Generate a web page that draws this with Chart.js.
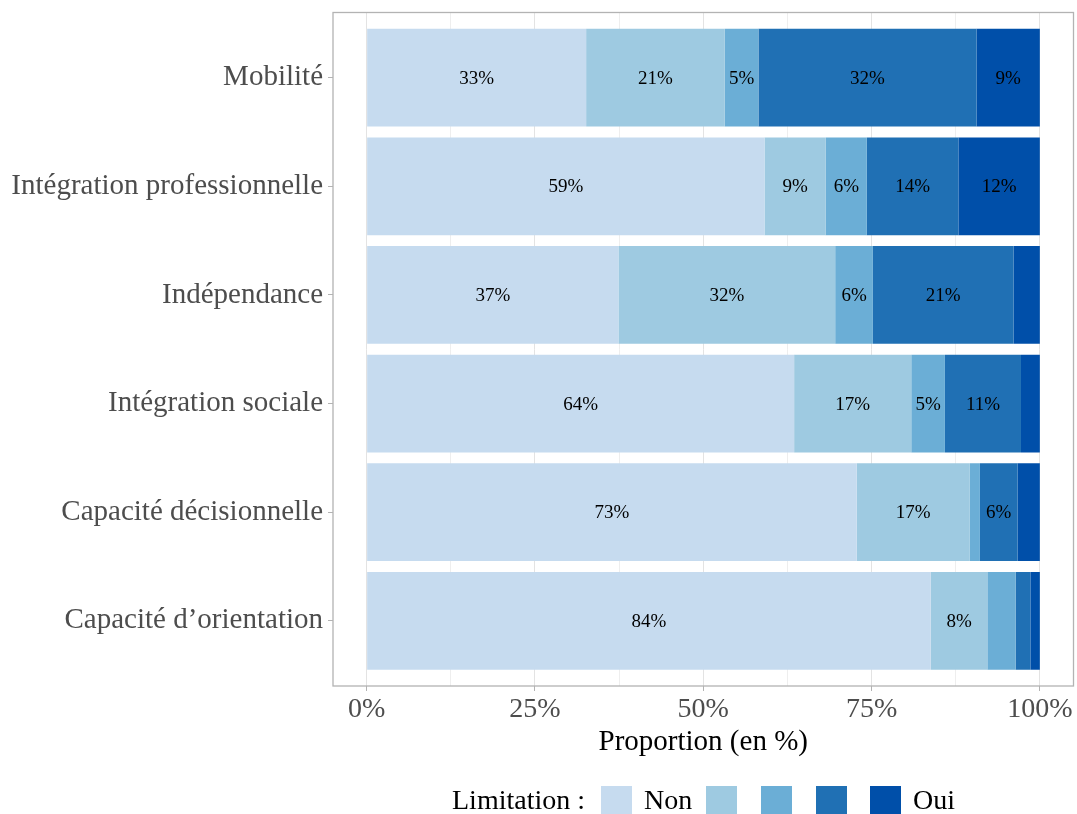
<!DOCTYPE html>
<html>
<head>
<meta charset="utf-8">
<script src="https://cdn.jsdelivr.net/npm/chart.js@4"></script>
<style>
  html, body { margin: 0; padding: 0; background: #fff; }
  #wrap { position: relative; width: 1077px; height: 814px; overflow: hidden; }
  #legend { position: absolute; left: 0; top: 0; width: 1077px; height: 814px; pointer-events: none;
            font-family: "Liberation Serif", "DejaVu Serif", serif; font-size: 28px; color: #000; }
  #legend .txt { position: absolute; top: 783px; line-height: 34px; white-space: nowrap; }
  #legend .key { position: absolute; top: 786px; width: 31px; height: 31px; }
</style>
</head>
<body>
<div id="wrap">
  <canvas id="chart" width="1077" height="814"></canvas>
  <div id="legend"></div>
</div>
<script>
// Catégories (de haut en bas)
const categories = ['Mobilité', 'Intégration professionnelle', 'Indépendance',
                    'Intégration sociale', 'Capacité décisionnelle', "Capacité d’orientation"];

// Niveaux de limitation (Non -> Oui)
const levels = ['Non', '', '', '', 'Oui'];
const colors = ['#c6dbef', '#9ecae1', '#6baed6', '#2070b4', '#004fa9'];

// Proportions (%) par niveau, une valeur par catégorie
const level1 = [32.6, 59.1, 37.4, 63.5, 72.8, 83.8];
const level2 = [20.6,  9.1, 32.2, 17.4, 16.8,  8.4];
const level3 = [ 5.0,  6.1,  5.6,  5.0,  1.5,  4.2];
const level4 = [32.4, 13.6, 20.9, 11.3,  5.6,  2.2];
const level5 = [ 9.4, 12.1,  3.9,  2.8,  3.3,  1.4];
const series = [level1, level2, level3, level4, level5];

// Graduations de l'axe x
const xTicks = [0, 12.5, 25, 37.5, 50, 62.5, 75, 87.5, 100];
const xTickLabels = { 0: '0%', 25: '25%', 50: '50%', 75: '75%', 100: '100%' };

const serif = '"Liberation Serif", "DejaVu Serif", serif';

// Cadre du panneau
const panelBorder = {
  id: 'panelBorder',
  afterDraw(chart) {
    const { ctx, chartArea: a } = chart;
    ctx.save();
    ctx.strokeStyle = '#b3b3b3';
    ctx.lineWidth = 1.3;
    ctx.strokeRect(a.left, a.top, a.right - a.left, a.bottom - a.top);
    ctx.restore();
  }
};

// Étiquettes au centre des segments
const barLabels = {
  id: 'barLabels',
  afterDatasetsDraw(chart) {
    const ctx = chart.ctx;
    ctx.save();
    ctx.font = '19px ' + serif;
    ctx.fillStyle = '#000';
    ctx.textAlign = 'center';
    ctx.textBaseline = 'middle';
    chart.data.datasets.forEach((ds, i) => {
      chart.getDatasetMeta(i).data.forEach((el, j) => {
        const v = ds.data[j].x;
        if (v < 4.5) return;
        ctx.fillText(Math.round(v) + '%', (el.x + el.base) / 2, el.y + 1);
      });
    });
    ctx.restore();
  }
};

// pas de marge automatique autour des axes
function noPadding(s) {
  s.paddingTop = 0; s.paddingBottom = 0; s.paddingLeft = 0; s.paddingRight = 0;
}

const datasets = series.map((vals, i) => ({
  label: levels[i] || ('niveau ' + (i + 1)),
  data: vals.map((v, j) => ({ x: v, y: j })),
  backgroundColor: colors[i],
  borderWidth: 0,
  categoryPercentage: 0.9,
  barPercentage: 1.0
}));

new Chart(document.getElementById('chart'), {
  type: 'bar',
  data: { datasets },
  plugins: [panelBorder, barLabels],
  options: {
    indexAxis: 'y',
    responsive: false,
    animation: false,
    layout: { padding: { top: 12.5, right: 3.5, left: 0, bottom: 0 } },
    plugins: { legend: { display: false }, tooltip: { enabled: false } },
    scales: {
      x: {
        type: 'linear',
        stacked: true,
        min: -5,
        max: 105,
        afterBuildTicks: s => { s.ticks = xTicks.map(v => ({ value: v })); },
        afterFit: s => { s.height = 128; noPadding(s); },
        border: { display: false },
        grid: {
          color: ctx => (ctx.tick && ctx.tick.value % 25 === 0) ? '#e3e3e3' : '#eeeeee',
          tickColor: ctx => (ctx.tick && ctx.tick.value % 25 === 0) ? '#b3b3b3' : 'rgba(0,0,0,0)',
          tickLength: 5,
          lineWidth: 1
        },
        ticks: {
          autoSkip: false,
          maxRotation: 0,
          padding: 2,
          color: '#4d4d4d',
          font: { family: serif, size: 28 },
          callback: v => xTickLabels[v] || ''
        },
        title: {
          display: true,
          text: 'Proportion (en %)',
          color: '#000',
          font: { family: serif, size: 29 },
          padding: { top: 0, bottom: 54 }
        }
      },
      y: {
        type: 'linear',
        stacked: true,
        reverse: true,
        offset: false,
        min: -0.6,
        max: 5.6,
        afterBuildTicks: s => { s.ticks = categories.map((c, i) => ({ value: i })); },
        afterFit: s => { s.width = 333; noPadding(s); },
        border: { display: false },
        grid: {
          offset: false,
          drawOnChartArea: false,
          tickColor: '#b3b3b3',
          tickLength: 5
        },
        ticks: {
          autoSkip: false,
          padding: 5,
          color: '#4d4d4d',
          font: { family: serif, size: 29 },
          callback: v => categories[v] || ''
        }
      }
    }
  }
});

// Légende (HTML)
const legend = document.getElementById('legend');
const keyX = [601, 706, 761, 816, 870];
function addText(text, x) {
  const d = document.createElement('div');
  d.className = 'txt';
  d.style.left = x + 'px';
  d.textContent = text;
  legend.appendChild(d);
}
addText('Limitation :', 452);
colors.forEach((c, i) => {
  const k = document.createElement('div');
  k.className = 'key';
  k.style.left = keyX[i] + 'px';
  k.style.background = c;
  legend.appendChild(k);
  if (levels[i]) addText(levels[i], keyX[i] + 43);
});
</script>
</body>
</html>
